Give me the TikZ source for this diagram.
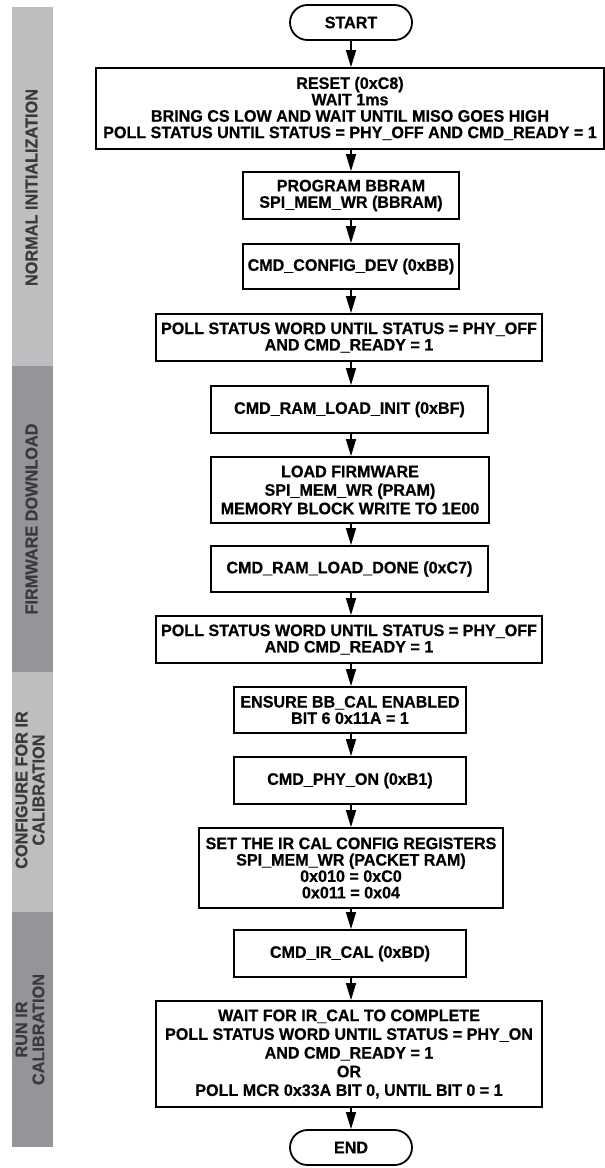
\documentclass[tikz,border=0pt]{standalone}
\usepackage{fontspec}
\setmainfont{Liberation Sans}
\newfontfamily\cfont{Liberation Sans}[FakeStretch=0.97, FakeBold=0.6]
\usetikzlibrary{arrows.meta}
\definecolor{barlight}{HTML}{BCBEC0}
\definecolor{bardark}{HTML}{939598}
\definecolor{bartext}{HTML}{3A3A3C}
\begin{document}
\begin{tikzpicture}[x=1pt,y=-1pt,
  box/.style={draw, line width=1.8pt, align=center, inner sep=0pt,
    font=\cfont\fontsize{16.6}{16.4}\selectfont\bfseries},
  term/.style={box, rounded corners=17.5pt, minimum width=122pt, minimum height=35pt},
  arr/.style={line width=1.5pt, -{Triangle[length=17pt,width=10pt]}},
  lab/.style={rotate=90, text=bartext, align=center, inner sep=0pt,
    font=\cfont\fontsize{16.8}{17}\selectfont\bfseries}
]
\useasboundingbox (0,0) rectangle (605,1168);

% side bars
\fill[barlight] (12,7) rectangle (53,366);
\fill[bardark] (12,366) rectangle (53,672);
\fill[barlight] (12,672) rectangle (53,912);
\fill[bardark] (12,912) rectangle (53,1147);
\node[lab] (l1) at (31.5,187.5) {NORMAL INITIALIZATION};
\node[lab] (l2) at (31.5,519) {FIRMWARE DOWNLOAD};
\node[lab] (l3) at (30,790) {CONFIGURE FOR IR\\CALIBRATION};
\node[lab] (l4) at (30,1029.5) {RUN IR\\CALIBRATION};

% flow
\node[term] (start) at (351,22.5) {START};
\node[box, minimum width=508pt, minimum height=81pt] (reset) at (350,108.5)
  {RESET (0xC8)\\WAIT 1ms\\BRING CS LOW AND WAIT UNTIL MISO GOES HIGH\\POLL STATUS UNTIL STATUS = PHY\_OFF AND CMD\_READY = 1};
\node[box, minimum width=216pt, minimum height=47pt] (prog) at (351,195.5)
  {PROGRAM BBRAM\\SPI\_MEM\_WR (BBRAM)};
\node[box, minimum width=216pt, minimum height=45pt] (cfg) at (351,266.5)
  {CMD\_CONFIG\_DEV (0xBB)};
\node[box, minimum width=386pt, minimum height=47pt] (poll1) at (349,337.5)
  {POLL STATUS WORD UNTIL STATUS = PHY\_OFF\\AND CMD\_READY = 1};
\node[box, minimum width=277pt, minimum height=47pt] (rinit) at (349.5,409.5)
  {CMD\_RAM\_LOAD\_INIT (0xBF)};
\node[box, minimum width=278pt, minimum height=66pt,
  font=\cfont\fontsize{16.6}{18.5}\selectfont\bfseries] (loadfw) at (350,490)
  {LOAD FIRMWARE\\SPI\_MEM\_WR (PRAM)\\MEMORY BLOCK WRITE TO 1E00};
\node[box, minimum width=277pt, minimum height=46pt] (rdone) at (349.5,569)
  {CMD\_RAM\_LOAD\_DONE (0xC7)};
\node[box, minimum width=386pt, minimum height=47pt] (poll2) at (349,639.5)
  {POLL STATUS WORD UNTIL STATUS = PHY\_OFF\\AND CMD\_READY = 1};
\node[box, minimum width=232pt, minimum height=46pt] (ensure) at (350,710)
  {ENSURE BB\_CAL ENABLED\\BIT 6 0x11A = 1};
\node[box, minimum width=232pt, minimum height=47pt] (phyon) at (350,780.5)
  {CMD\_PHY\_ON (0xB1)};
\node[box, minimum width=304pt, minimum height=80pt] (setir) at (351,868)
  {SET THE IR CAL CONFIG REGISTERS\\SPI\_MEM\_WR (PACKET RAM)\\0x010 = 0xC0\\0x011 = 0x04};
\node[box, minimum width=232pt, minimum height=47pt] (ircal) at (350,953.5)
  {CMD\_IR\_CAL (0xBD)};
\node[box, minimum width=386pt, minimum height=106pt,
  font=\cfont\fontsize{16.6}{18.7}\selectfont\bfseries] (wait) at (349,1054)
  {WAIT FOR IR\_CAL TO COMPLETE\\POLL STATUS WORD UNTIL STATUS = PHY\_ON\\AND CMD\_READY = 1\\OR\\POLL MCR 0x33A BIT 0, UNTIL BIT 0 = 1};
\node[term] (end) at (351,1147.5) {END};

\foreach \a/\b in {start/reset, reset/prog, prog/cfg, cfg/poll1, poll1/rinit,
  rinit/loadfw, loadfw/rdone, rdone/poll2, poll2/ensure, ensure/phyon,
  phyon/setir, setir/ircal, ircal/wait, wait/end}
  \draw[arr] (\a.south -| start.south) -- (\b.north -| start.south);
\end{tikzpicture}
\end{document}
